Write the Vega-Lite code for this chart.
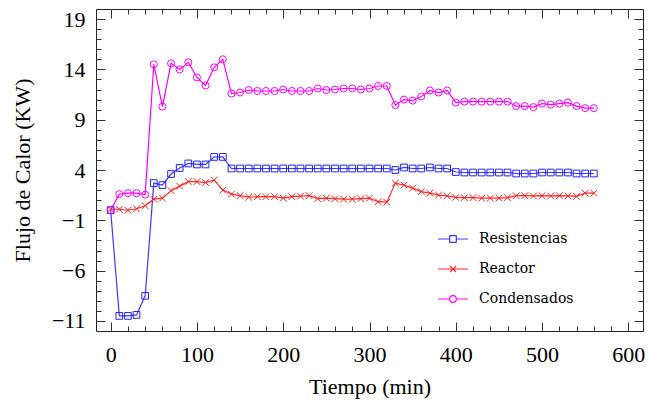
{
  "$schema": "https://vega.github.io/schema/vega-lite/v6.json",
  "width": 547,
  "height": 322,
  "autosize": {"type": "none"},
  "padding": {"left": 96, "top": 9, "right": 5, "bottom": 77},
  "background": "white",
  "config": {
    "view": {"stroke": "#222222", "strokeWidth": 1},
    "axis": {"grid": false, "domain": false, "labelFont": "Liberation Serif", "titleFont": "Liberation Serif", "labelColor": "black", "titleColor": "black", "titleFontWeight": "normal", "tickColor": "#333333", "tickWidth": 1, "labelOverlap": false, "labelFlush": false}
  },
  "datasets": {
    "d": [
      {"t":0,"serie":"Resistencias","v":0},{"t":10,"serie":"Resistencias","v":-10.5},{"t":20,"serie":"Resistencias","v":-10.5},{"t":30,"serie":"Resistencias","v":-10.4},{"t":40,"serie":"Resistencias","v":-8.5},{"t":50,"serie":"Resistencias","v":2.7},{"t":60,"serie":"Resistencias","v":2.5},{"t":70,"serie":"Resistencias","v":3.6},{"t":80,"serie":"Resistencias","v":4.2},{"t":90,"serie":"Resistencias","v":4.65},{"t":100,"serie":"Resistencias","v":4.55},{"t":110,"serie":"Resistencias","v":4.55},{"t":120,"serie":"Resistencias","v":5.3},{"t":130,"serie":"Resistencias","v":5.3},{"t":140,"serie":"Resistencias","v":4.15},{"t":150,"serie":"Resistencias","v":4.15},{"t":160,"serie":"Resistencias","v":4.15},{"t":170,"serie":"Resistencias","v":4.15},{"t":180,"serie":"Resistencias","v":4.15},{"t":190,"serie":"Resistencias","v":4.15},{"t":200,"serie":"Resistencias","v":4.15},{"t":210,"serie":"Resistencias","v":4.15},{"t":220,"serie":"Resistencias","v":4.15},{"t":230,"serie":"Resistencias","v":4.15},{"t":240,"serie":"Resistencias","v":4.15},{"t":250,"serie":"Resistencias","v":4.15},{"t":260,"serie":"Resistencias","v":4.15},{"t":270,"serie":"Resistencias","v":4.15},{"t":280,"serie":"Resistencias","v":4.15},{"t":290,"serie":"Resistencias","v":4.15},{"t":300,"serie":"Resistencias","v":4.15},{"t":310,"serie":"Resistencias","v":4.15},{"t":320,"serie":"Resistencias","v":4.15},{"t":330,"serie":"Resistencias","v":4.0},{"t":340,"serie":"Resistencias","v":4.25},{"t":350,"serie":"Resistencias","v":4.15},{"t":360,"serie":"Resistencias","v":4.15},{"t":370,"serie":"Resistencias","v":4.25},{"t":380,"serie":"Resistencias","v":4.15},{"t":390,"serie":"Resistencias","v":4.15},{"t":400,"serie":"Resistencias","v":3.8},{"t":410,"serie":"Resistencias","v":3.75},{"t":420,"serie":"Resistencias","v":3.75},{"t":430,"serie":"Resistencias","v":3.75},{"t":440,"serie":"Resistencias","v":3.75},{"t":450,"serie":"Resistencias","v":3.75},{"t":460,"serie":"Resistencias","v":3.75},{"t":470,"serie":"Resistencias","v":3.65},{"t":480,"serie":"Resistencias","v":3.65},{"t":490,"serie":"Resistencias","v":3.65},{"t":500,"serie":"Resistencias","v":3.75},{"t":510,"serie":"Resistencias","v":3.75},{"t":520,"serie":"Resistencias","v":3.75},{"t":530,"serie":"Resistencias","v":3.75},{"t":540,"serie":"Resistencias","v":3.65},{"t":550,"serie":"Resistencias","v":3.65},{"t":560,"serie":"Resistencias","v":3.65},
      {"t":0,"serie":"Reactor","v":0.1},{"t":10,"serie":"Reactor","v":0.1},{"t":20,"serie":"Reactor","v":0.0},{"t":30,"serie":"Reactor","v":0.15},{"t":40,"serie":"Reactor","v":0.45},{"t":50,"serie":"Reactor","v":1.1},{"t":60,"serie":"Reactor","v":1.2},{"t":70,"serie":"Reactor","v":1.95},{"t":80,"serie":"Reactor","v":2.4},{"t":90,"serie":"Reactor","v":2.85},{"t":100,"serie":"Reactor","v":2.85},{"t":110,"serie":"Reactor","v":2.75},{"t":120,"serie":"Reactor","v":3.0},{"t":130,"serie":"Reactor","v":2.0},{"t":140,"serie":"Reactor","v":1.6},{"t":150,"serie":"Reactor","v":1.45},{"t":160,"serie":"Reactor","v":1.3},{"t":170,"serie":"Reactor","v":1.35},{"t":180,"serie":"Reactor","v":1.35},{"t":190,"serie":"Reactor","v":1.35},{"t":200,"serie":"Reactor","v":1.2},{"t":210,"serie":"Reactor","v":1.35},{"t":220,"serie":"Reactor","v":1.4},{"t":230,"serie":"Reactor","v":1.45},{"t":240,"serie":"Reactor","v":1.15},{"t":250,"serie":"Reactor","v":1.2},{"t":260,"serie":"Reactor","v":1.15},{"t":270,"serie":"Reactor","v":1.1},{"t":280,"serie":"Reactor","v":1.1},{"t":290,"serie":"Reactor","v":1.15},{"t":300,"serie":"Reactor","v":1.2},{"t":310,"serie":"Reactor","v":0.85},{"t":320,"serie":"Reactor","v":0.8},{"t":330,"serie":"Reactor","v":2.7},{"t":340,"serie":"Reactor","v":2.5},{"t":350,"serie":"Reactor","v":2.2},{"t":360,"serie":"Reactor","v":1.85},{"t":370,"serie":"Reactor","v":1.7},{"t":380,"serie":"Reactor","v":1.5},{"t":390,"serie":"Reactor","v":1.42},{"t":400,"serie":"Reactor","v":1.28},{"t":410,"serie":"Reactor","v":1.25},{"t":420,"serie":"Reactor","v":1.25},{"t":430,"serie":"Reactor","v":1.2},{"t":440,"serie":"Reactor","v":1.2},{"t":450,"serie":"Reactor","v":1.2},{"t":460,"serie":"Reactor","v":1.25},{"t":470,"serie":"Reactor","v":1.45},{"t":480,"serie":"Reactor","v":1.45},{"t":490,"serie":"Reactor","v":1.42},{"t":500,"serie":"Reactor","v":1.45},{"t":510,"serie":"Reactor","v":1.42},{"t":520,"serie":"Reactor","v":1.45},{"t":530,"serie":"Reactor","v":1.42},{"t":540,"serie":"Reactor","v":1.38},{"t":550,"serie":"Reactor","v":1.7},{"t":560,"serie":"Reactor","v":1.7},
      {"t":0,"serie":"Condensados","v":0},{"t":10,"serie":"Condensados","v":1.6},{"t":20,"serie":"Condensados","v":1.7},{"t":30,"serie":"Condensados","v":1.7},{"t":40,"serie":"Condensados","v":1.55},{"t":50,"serie":"Condensados","v":14.5},{"t":60,"serie":"Condensados","v":10.3},{"t":70,"serie":"Condensados","v":14.6},{"t":80,"serie":"Condensados","v":14.0},{"t":90,"serie":"Condensados","v":14.7},{"t":100,"serie":"Condensados","v":13.2},{"t":110,"serie":"Condensados","v":12.4},{"t":120,"serie":"Condensados","v":14.2},{"t":130,"serie":"Condensados","v":15.0},{"t":140,"serie":"Condensados","v":11.6},{"t":150,"serie":"Condensados","v":11.7},{"t":160,"serie":"Condensados","v":11.95},{"t":170,"serie":"Condensados","v":11.85},{"t":180,"serie":"Condensados","v":11.85},{"t":190,"serie":"Condensados","v":11.85},{"t":200,"serie":"Condensados","v":12.0},{"t":210,"serie":"Condensados","v":11.85},{"t":220,"serie":"Condensados","v":11.85},{"t":230,"serie":"Condensados","v":11.85},{"t":240,"serie":"Condensados","v":12.1},{"t":250,"serie":"Condensados","v":11.95},{"t":260,"serie":"Condensados","v":12.0},{"t":270,"serie":"Condensados","v":12.1},{"t":280,"serie":"Condensados","v":12.1},{"t":290,"serie":"Condensados","v":12.0},{"t":300,"serie":"Condensados","v":12.1},{"t":310,"serie":"Condensados","v":12.35},{"t":320,"serie":"Condensados","v":12.35},{"t":330,"serie":"Condensados","v":10.45},{"t":340,"serie":"Condensados","v":11.0},{"t":350,"serie":"Condensados","v":10.9},{"t":360,"serie":"Condensados","v":11.3},{"t":370,"serie":"Condensados","v":11.9},{"t":380,"serie":"Condensados","v":11.7},{"t":390,"serie":"Condensados","v":11.9},{"t":400,"serie":"Condensados","v":10.7},{"t":410,"serie":"Condensados","v":10.8},{"t":420,"serie":"Condensados","v":10.8},{"t":430,"serie":"Condensados","v":10.8},{"t":440,"serie":"Condensados","v":10.8},{"t":450,"serie":"Condensados","v":10.8},{"t":460,"serie":"Condensados","v":10.8},{"t":470,"serie":"Condensados","v":10.35},{"t":480,"serie":"Condensados","v":10.35},{"t":490,"serie":"Condensados","v":10.25},{"t":500,"serie":"Condensados","v":10.6},{"t":510,"serie":"Condensados","v":10.5},{"t":520,"serie":"Condensados","v":10.6},{"t":530,"serie":"Condensados","v":10.7},{"t":540,"serie":"Condensados","v":10.35},{"t":550,"serie":"Condensados","v":10.15},{"t":560,"serie":"Condensados","v":10.15}
    ]
  },
  "data": {"name": "d"},
  "resolve": {"axis": {"x": "independent", "y": "independent"}},
  "layer": [
    {
      "transform": [{"filter": "datum.serie === 'Resistencias'"}],
      "mark": {"type": "line", "strokeWidth": 1.2, "color": "#3a3aff"},
      "encoding": {
        "x": {"field": "t", "type": "quantitative", "scale": {"domain": [-17, 617], "nice": false, "zero": false},
          "axis": {"orient": "bottom", "values": [0,100,200,300,400,500,600], "ticks": false, "labelFontSize": 22, "labelPadding": 13, "title": "Tiempo (min)", "titleFontSize": 22, "titlePadding": 11}},
        "y": {"field": "v", "type": "quantitative", "scale": {"domain": [-12, 20], "nice": false, "zero": false},
          "axis": {"orient": "left", "values": [-11,-6,-1,4,9,14,19], "ticks": false, "labelFontSize": 22, "labelPadding": 11, "title": "Flujo de Calor (KW)", "titleFontSize": 22, "titlePadding": 17}}
      }
    },
    {
      "transform": [{"filter": "datum.serie === 'Reactor'"}],
      "mark": {"type": "line", "strokeWidth": 1.2, "color": "#ff2a2a"},
      "encoding": {
        "x": {"field": "t", "type": "quantitative", "axis": {"orient": "bottom", "values": [0,100,200,300,400,500,600], "labels": false, "tickSize": -9, "title": null}},
        "y": {"field": "v", "type": "quantitative", "axis": {"orient": "left", "values": [-11,-6,-1,4,9,14,19], "labels": false, "tickSize": -9, "title": null}}
      }
    },
    {
      "transform": [{"filter": "datum.serie === 'Condensados'"}],
      "mark": {"type": "line", "strokeWidth": 1.2, "color": "#ff00ff"},
      "encoding": {
        "x": {"field": "t", "type": "quantitative", "axis": {"orient": "bottom", "values": [0,20,40,60,80,100,120,140,160,180,200,220,240,260,280,300,320,340,360,380,400,420,440,460,480,500,520,540,560,580,600], "labels": false, "tickSize": -5, "title": null}},
        "y": {"field": "v", "type": "quantitative", "axis": {"orient": "left", "values": [-11,-10,-9,-8,-7,-6,-5,-4,-3,-2,-1,0,1,2,3,4,5,6,7,8,9,10,11,12,13,14,15,16,17,18,19], "labels": false, "tickSize": -5, "title": null}}
      }
    },
    {
      "transform": [{"filter": "datum.serie === 'Resistencias'"}],
      "mark": {"type": "point", "shape": "square", "size": 45, "filled": false, "strokeWidth": 1, "opacity": 1, "color": "#2020ff"},
      "encoding": {
        "x": {"field": "t", "type": "quantitative", "axis": {"orient": "top", "values": [0,100,200,300,400,500,600], "labels": false, "tickSize": -9, "title": null}},
        "y": {"field": "v", "type": "quantitative", "axis": {"orient": "right", "values": [-11,-6,-1,4,9,14,19], "labels": false, "tickSize": -9, "title": null}}
      }
    },
    {
      "transform": [{"filter": "datum.serie === 'Reactor'"}],
      "mark": {"type": "point", "shape": "M-1,-1L1,1M-1,1L1,-1", "size": 45, "filled": false, "strokeWidth": 1, "opacity": 1, "color": "#ff2020"},
      "encoding": {
        "x": {"field": "t", "type": "quantitative", "axis": {"orient": "top", "values": [0,20,40,60,80,100,120,140,160,180,200,220,240,260,280,300,320,340,360,380,400,420,440,460,480,500,520,540,560,580,600], "labels": false, "tickSize": -5, "title": null}},
        "y": {"field": "v", "type": "quantitative", "axis": {"orient": "right", "values": [-11,-10,-9,-8,-7,-6,-5,-4,-3,-2,-1,0,1,2,3,4,5,6,7,8,9,10,11,12,13,14,15,16,17,18,19], "labels": false, "tickSize": -5, "title": null}}
      }
    },
    {
      "transform": [{"filter": "datum.serie === 'Condensados'"}],
      "mark": {"type": "point", "shape": "circle", "size": 50, "filled": false, "strokeWidth": 1, "opacity": 1, "color": "#ff00ff"},
      "encoding": {
        "x": {"field": "t", "type": "quantitative", "axis": null},
        "y": {"field": "v", "type": "quantitative", "axis": null}
      }
    },
    {
      "mark": {"type": "point", "filled": false, "opacity": 0, "strokeWidth": 1.2},
      "encoding": {
        "x": {"field": "t", "type": "quantitative", "axis": null},
        "y": {"field": "v", "type": "quantitative", "axis": null},
        "color": {"field": "serie", "type": "nominal", "scale": {"domain": ["Resistencias", "Reactor", "Condensados"], "range": ["#3a3aff", "#ff2a2a", "#ff00ff"]}, "legend": {"title": null, "orient": "none", "legendX": 341, "legendY": 214, "padding": 0, "rowPadding": 7, "symbolSize": 900, "symbolStrokeWidth": 1.2, "labelFont": "DejaVu Serif", "labelFontSize": 14, "labelColor": "black", "labelOffset": 10, "encode": {"symbols": {"update": {"opacity": {"value": 1}}}}}},
        "shape": {"field": "serie", "type": "nominal", "scale": {"domain": ["Resistencias", "Reactor", "Condensados"], "range": ["M-1,0H-0.22M0.22,0H1M-0.22,-0.22H0.22V0.22H-0.22Z", "M-1,0H1M-0.2,-0.2L0.2,0.2M-0.2,0.2L0.2,-0.2", "M-1,0H-0.22M0.22,0H1M0.22,0A0.22,0.22 0 1,1 -0.22,0A0.22,0.22 0 1,1 0.22,0"]}, "legend": {"title": null, "orient": "none", "legendX": 341, "legendY": 214, "padding": 0, "rowPadding": 7, "symbolSize": 900, "symbolStrokeWidth": 1.2, "labelFont": "DejaVu Serif", "labelFontSize": 14, "labelColor": "black", "labelOffset": 10, "encode": {"symbols": {"update": {"opacity": {"value": 1}}}}}}
      }
    }
  ]
}
